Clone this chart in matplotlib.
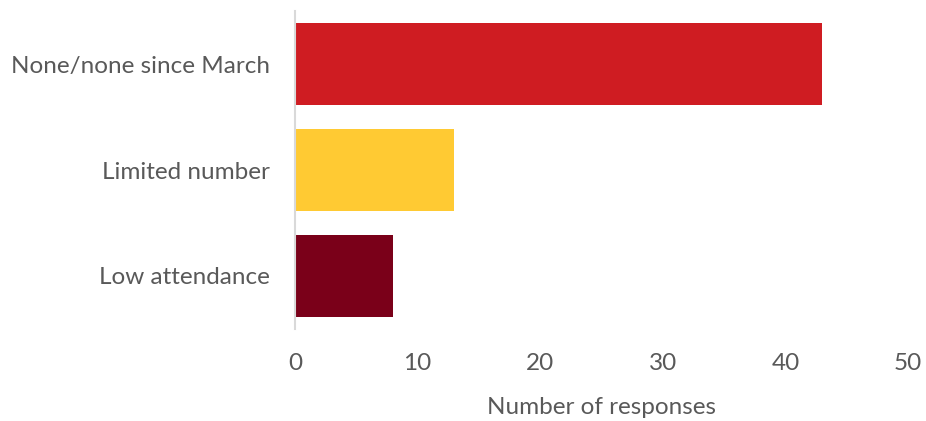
import matplotlib
matplotlib.use("Agg")
import matplotlib.pyplot as plt

categories = ["None/none since March", "Limited number", "Low attendance"]
values = [43, 13, 8]
colors = ["#CF1C22", "#FFCA33", "#7A0019"]
xticks = [0, 10, 20, 30, 40, 50]

plt.rcParams['font.family'] = ['Lato', 'DejaVu Sans']
fig = plt.figure(figsize=(9.26, 4.21), dpi=100)
ax = fig.add_axes([295/926, 1 - 329/421, (908-295)/926, (329-11)/421])

y = list(range(len(categories)))
ax.barh(y, values, height=0.77, color=colors)
ax.set_ylim(2.5, -0.5)
ax.set_xlim(0, 50)
ax.set_xticks(xticks)
ax.set_xticklabels([str(t) for t in xticks])
ax.set_yticks(y)
ax.set_yticklabels(categories)
for s in ["top", "right", "bottom"]:
    ax.spines[s].set_visible(False)
ax.spines["left"].set_color("#D9D9D9")
ax.spines["left"].set_linewidth(1.5)
ax.tick_params(axis="both", length=0, labelsize=17.5, colors="#595959")
ax.tick_params(axis="x", pad=17)
ax.tick_params(axis="y", pad=18)
ax.set_xlabel("Number of responses", fontsize=17.5, color="#595959", labelpad=17)

fig.savefig("out.png", dpi=100)
